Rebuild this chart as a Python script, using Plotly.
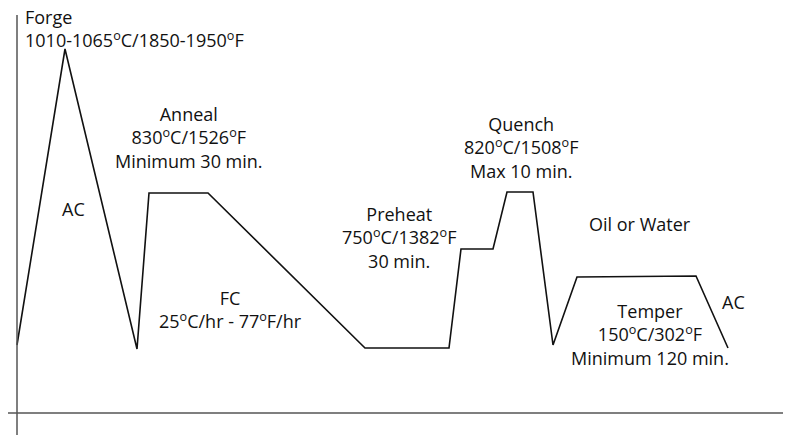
import plotly.graph_objects as go

# Schematic heat-treatment cycle (time in schematic units, temperature level in schematic units)
time_pts = [17, 65, 137, 149, 208, 365, 449, 461, 493, 507, 533, 553, 577, 696, 728]
temp_lvl = [90, 386, 86, 242, 242, 87, 87, 186, 186, 243, 243, 90, 158, 159, 87]

label_text = [
    "Forge<br>1010-1065<sup>o</sup>C/1850-1950<sup>o</sup>F",
    "AC",
    "Anneal<br>830<sup>o</sup>C/1526<sup>o</sup>F<br>Minimum 30 min.",
    "FC<br>25<sup>o</sup>C/hr - 77<sup>o</sup>F/hr",
    "Preheat<br>750<sup>o</sup>C/1382<sup>o</sup>F<br>30 min.",
    "Quench<br>820<sup>o</sup>C/1508<sup>o</sup>F<br>Max 10 min.",
    "Oil or Water",
    "Temper<br>150<sup>o</sup>C/302<sup>o</sup>F<br>Minimum 120 min.",
    "AC",
]
label_x = [23, 73, 189, 230, 399, 521, 640, 650, 733]
label_y = [407, 226, 298, 126, 198, 288, 211, 101, 133]
label_anchor = ["left"] + ["center"] * 8
label_align = ["left"] + ["center"] * 8

fig = go.Figure()

# axes lines
fig.add_shape(type="line", x0=0, x1=783, y0=22, y1=22, line=dict(color="#555", width=1.5))
fig.add_shape(type="line", x0=17, x1=17, y0=-10, y1=420, line=dict(color="#555", width=1.5))

fig.add_trace(go.Scatter(x=time_pts, y=temp_lvl, mode="lines",
                         line=dict(color="#111", width=1.6), hoverinfo="skip"))

for t, x, y, a, al in zip(label_text, label_x, label_y, label_anchor, label_align):
    fig.add_annotation(x=x, y=y, text=t, showarrow=False, xanchor=a, yanchor="middle", align=al,
                       font=dict(family="Open Sans, sans-serif", size=18, color="#111"))

# ranges offset to compensate for the page's default 8px body margin
fig.update_xaxes(range=[8, 808], visible=False)
fig.update_yaxes(range=[-8, 427], visible=False)
fig.update_layout(width=800, height=435, margin=dict(l=0, r=0, t=0, b=0),
                  plot_bgcolor="white", paper_bgcolor="white", showlegend=False)

fig.write_html("out.html")
